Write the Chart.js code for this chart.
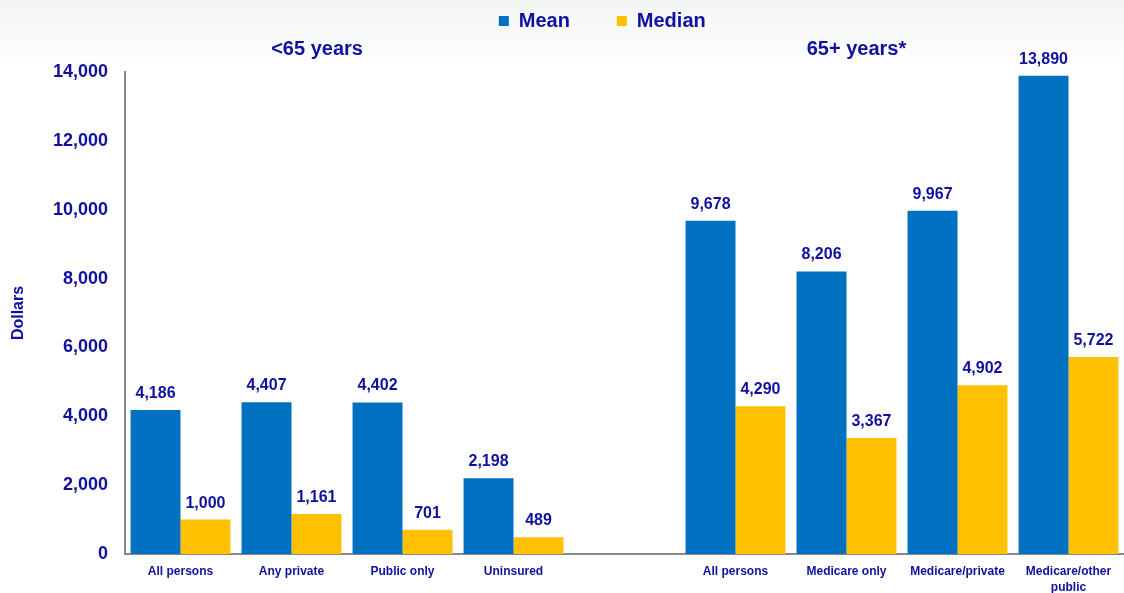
<!DOCTYPE html>
<html>
<head>
<meta charset="utf-8">
<script src="https://cdn.jsdelivr.net/npm/chart.js@4"></script>
<style>
  html, body { margin: 0; padding: 0; }
  body { width: 1124px; height: 593px; background: linear-gradient(#f3f5f5 0px, #ffffff 70px); }
  canvas { display: block; }
</style>
</head>
<body>
<canvas id="myChart" width="1124" height="593"></canvas>
<script>
const categories = ['All persons', 'Any private', 'Public only', 'Uninsured', '',
  'All persons', 'Medicare only', 'Medicare/private', ['Medicare/other', 'public']];
const meanValues = [4186, 4407, 4402, 2198, null, 9678, 8206, 9967, 13890];
const medianValues = [1000, 1161, 701, 489, null, 4290, 3367, 4902, 5722];
const seriesNames = ['Mean', 'Median'];
const groupLabels = ['<65 years', '65+ years*'];
const yTicks = [0, 2000, 4000, 6000, 8000, 10000, 12000, 14000];

const textBlue = '#1010a0';
const fontFamily = '"Liberation Sans", Arial, sans-serif';

// value labels above each bar
const barValues = {
  id: 'barValues',
  afterDatasetsDraw: (chart) => {
    const { ctx } = chart;
    ctx.save();
    ctx.font = 'bold 16px ' + fontFamily;
    ctx.fillStyle = textBlue;
    ctx.textAlign = 'center';
    ctx.textBaseline = 'alphabetic';
    chart.data.datasets.forEach((ds, i) => {
      const meta = chart.getDatasetMeta(i);
      meta.data.forEach((bar, j) => {
        const v = ds.data[j];
        if (v === null) return;
        ctx.fillText(v.toLocaleString('en-US'), bar.x, bar.y - 12);
      });
    });
    ctx.restore();
  }
};

// age group headings over the two halves
const groupTitles = {
  id: 'groupTitles',
  afterDraw: (chart) => {
    const { ctx, chartArea: { top } } = chart;
    const x = chart.scales.x;
    const spots = [1.23, 6.09];
    ctx.save();
    ctx.font = 'bold 20px ' + fontFamily;
    ctx.fillStyle = textBlue;
    ctx.textAlign = 'center';
    ctx.textBaseline = 'middle';
    groupLabels.forEach((t, i) => {
      ctx.fillText(t, x.getPixelForValue(spots[i]), top - 23);
    });
    ctx.restore();
  }
};

const config = {
  type: 'bar',
  data: {
    labels: categories,
    datasets: [
      { label: seriesNames[0], data: meanValues, backgroundColor: '#0070c0' },
      { label: seriesNames[1], data: medianValues, backgroundColor: '#ffc000' }
    ]
  },
  options: {
    responsive: false,
    animation: false,
    categoryPercentage: 0.9,
    barPercentage: 1.0,
    layout: {
      padding: { top: 3, left: 0, right: 0, bottom: 0 }
    },
    scales: {
      x: {
        grid: { display: false, drawTicks: false },
        border: { display: true, color: '#888888', width: 2 },
        ticks: {
          autoSkip: false,
          maxRotation: 0,
          padding: 10,
          color: textBlue,
          font: { family: fontFamily, size: 12, weight: 'bold', lineHeight: 1.3 }
        },
        afterFit: (scale) => { scale.height = 39; }
      },
      y: {
        min: 0,
        max: 14000,
        grid: { display: false, drawTicks: false },
        border: { display: true, color: '#888888', width: 2 },
        afterBuildTicks: (scale) => { scale.ticks = yTicks.map(v => ({ value: v })); },
        ticks: {
          padding: 17,
          color: textBlue,
          font: { family: fontFamily, size: 18, weight: 'bold' },
          callback: (v) => v.toLocaleString('en-US')
        },
        title: {
          display: true,
          text: 'Dollars',
          color: textBlue,
          padding: { top: 9, bottom: 0 },
          font: { family: fontFamily, size: 16, weight: 'bold' }
        },
        afterFit: (scale) => { scale.width = 125; }
      }
    },
    plugins: {
      legend: {
        display: true,
        position: 'top',
        fullSize: false,
        labels: {
          boxWidth: 10,
          boxHeight: 10,
          padding: 8,
          color: textBlue,
          font: { family: fontFamily, size: 20, weight: 'bold' },
          generateLabels: (chart) => {
            const items = Chart.defaults.plugins.legend.labels.generateLabels(chart);
            items[0].text = items[0].text + '       ';
            items[1].text = items[1].text + '        ';
            return items;
          }
        }
      },
      // empty spacer below the legend, room for the group headings
      title: {
        display: true,
        text: '',
        weight: 500,
        font: { size: 10 },
        padding: { top: 0, bottom: 19 }
      },
      tooltip: { enabled: false }
    }
  },
  plugins: [barValues, groupTitles]
};

const myChart = new Chart(document.getElementById('myChart'), config);
</script>
</body>
</html>
